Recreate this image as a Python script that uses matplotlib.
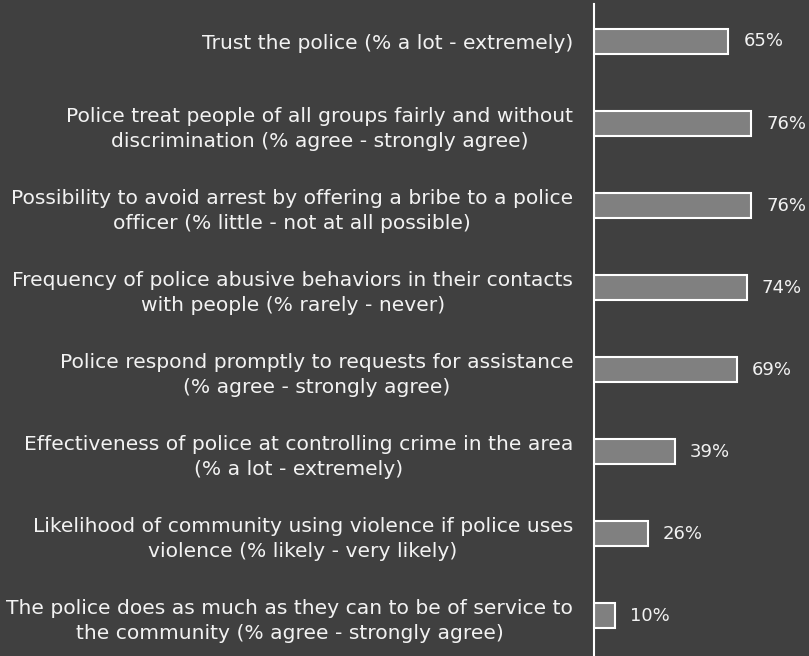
import matplotlib
matplotlib.use("Agg")
import matplotlib.pyplot as plt

labels = [
    "Trust the police (% a lot - extremely)",
    "Police treat people of all groups fairly and without\ndiscrimination (% agree - strongly agree)",
    "Possibility to avoid arrest by offering a bribe to a police\nofficer (% little - not at all possible)",
    "Frequency of police abusive behaviors in their contacts\nwith people (% rarely - never)",
    "Police respond promptly to requests for assistance\n(% agree - strongly agree)",
    "Effectiveness of police at controlling crime in the area\n(% a lot - extremely)",
    "Likelihood of community using violence if police uses\nviolence (% likely - very likely)",
    "The police does as much as they can to be of service to\nthe community (% agree - strongly agree)",
]
values = [65, 76, 76, 74, 69, 39, 26, 10]

BG = "#404040"
W, H = 809, 656
fig = plt.figure(figsize=(W / 100, H / 100), dpi=100, facecolor=BG)
ax = fig.add_axes([594 / W, 0, 1 - 594 / W, 1 - 4 / H])
ax.set_facecolor(BG)

pos = list(range(len(values)))
ax.barh(pos, values, height=0.305, color="#808080", edgecolor="white", linewidth=1.5)
ax.set_xlim(0, 104)
ax.set_ylim(7.49, -0.457)

for y, v in zip(pos, values):
    ax.text(v + 7.2, y, f"{v}%", va="center", ha="left", color="#f2f2f2", fontsize=13)

ax.set_yticks(pos)
ax.set_yticklabels(labels, color="#f2f2f2", fontsize=14.6, multialignment="center",
                   linespacing=1.4)
ax.tick_params(axis="y", length=0, pad=15)
ax.set_xticks([])
for s in ("top", "right", "bottom"):
    ax.spines[s].set_visible(False)
ax.spines["left"].set_color("white")
ax.spines["left"].set_linewidth(1.5)

fig.savefig("out.png", dpi=100, facecolor=BG)
